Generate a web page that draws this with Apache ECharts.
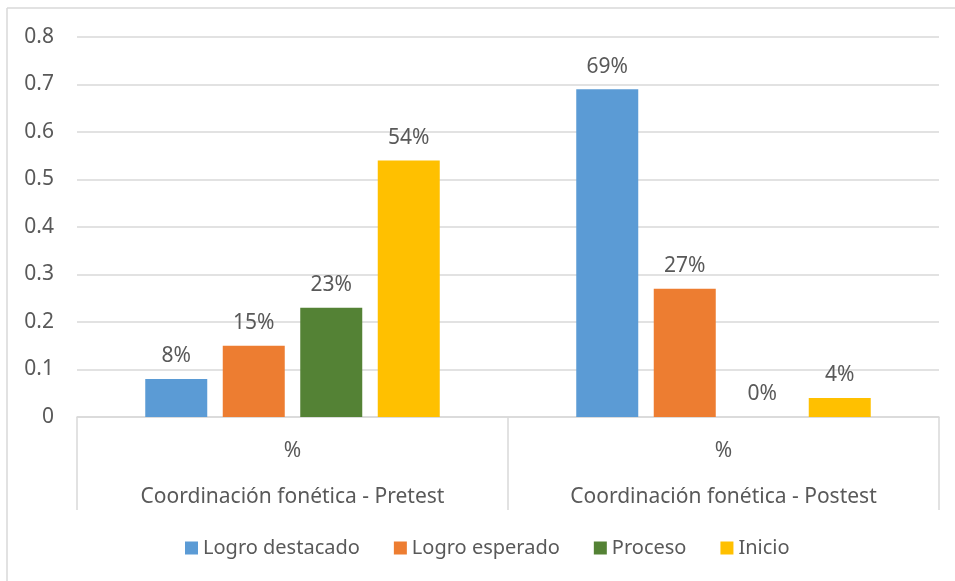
<!DOCTYPE html>
<html>
<head>
<meta charset="utf-8">
<script src="https://cdn.jsdelivr.net/npm/echarts@6/dist/echarts.min.js"></script>
<style>
  html, body { margin: 0; padding: 0; background: #fff; }
  #chart { width: 955px; height: 581px; }
</style>
</head>
<body>
<div id="chart"></div>
<script>
// Group labels (outer level) and the shared inner label
const groups = ['Coordinación fonética - Pretest', 'Coordinación fonética - Postest'];
const innerLabel = '%';

// Series names and colours
const seriesNames = ['Logro destacado', 'Logro esperado', 'Proceso', 'Inicio'];
const seriesColors = ['#5B9BD5', '#ED7D31', '#548235', '#FFC000'];

// Share of students per level, one value per group
const logroDestacado = [0.08, 0.69];
const logroEsperado = [0.15, 0.27];
const proceso = [0.23, 0.00];
const inicio = [0.54, 0.04];

// Y axis ticks
const yMin = 0, yMax = 0.8, yStep = 0.1;

const values = [logroDestacado, logroEsperado, proceso, inicio];
const font = 'Noto Sans';
const textColor = '#595959';
const lineColor = '#d9d9d9';
const fs = 21;

const chart = echarts.init(document.getElementById('chart'), null, { renderer: 'canvas' });

chart.setOption({
  animation: false,
  textStyle: { fontFamily: font },
  graphic: [
    { type: 'line', shape: { x1: 7, y1: 8, x2: 955, y2: 8 }, style: { stroke: lineColor, lineWidth: 1.5 } },
    { type: 'line', shape: { x1: 7, y1: 8, x2: 7, y2: 581 }, style: { stroke: lineColor, lineWidth: 1.5 } }
  ],
  grid: { left: 77, right: 16, top: 37, bottom: 164 },
  legend: {
    bottom: 18,
    left: 180,
    itemWidth: 13,
    itemHeight: 13,
    itemGap: 34,
    icon: 'rect',
    textStyle: { color: textColor, fontSize: 20, fontFamily: font },
    data: seriesNames
  },
  xAxis: [
    {
      type: 'category',
      data: groups.map(() => innerLabel),
      axisLine: { show: true, lineStyle: { color: lineColor, width: 1.5 } },
      axisTick: { show: true, length: 93, interval: 0, lineStyle: { color: lineColor, width: 1.5 } },
      axisLabel: { color: textColor, fontSize: fs, margin: 24, interval: 0 }
    },
    {
      type: 'category',
      data: groups,
      position: 'bottom',
      axisLine: { show: false },
      axisTick: { show: false },
      axisLabel: { color: textColor, fontSize: fs, margin: 70, interval: 0 }
    }
  ],
  yAxis: {
    type: 'value',
    min: yMin,
    max: yMax,
    interval: yStep,
    axisLine: { show: false },
    axisTick: { show: false },
    splitLine: { lineStyle: { color: lineColor, width: 1.5 } },
    axisLabel: {
      color: textColor,
      fontSize: fs,
      margin: 23,
      formatter: v => (Math.round(v * 10) / 10).toString()
    }
  },
  series: seriesNames.map((name, i) => ({
    name,
    type: 'bar',
    xAxisIndex: 0,
    data: values[i],
    barWidth: 62,
    barGap: '25%',
    itemStyle: { color: seriesColors[i] },
    label: {
      show: true,
      position: 'top',
      distance: 12,
      color: textColor,
      fontSize: fs,
      formatter: p => Math.round(p.value * 100) + '%'
    }
  }))
});
</script>
</body>
</html>
